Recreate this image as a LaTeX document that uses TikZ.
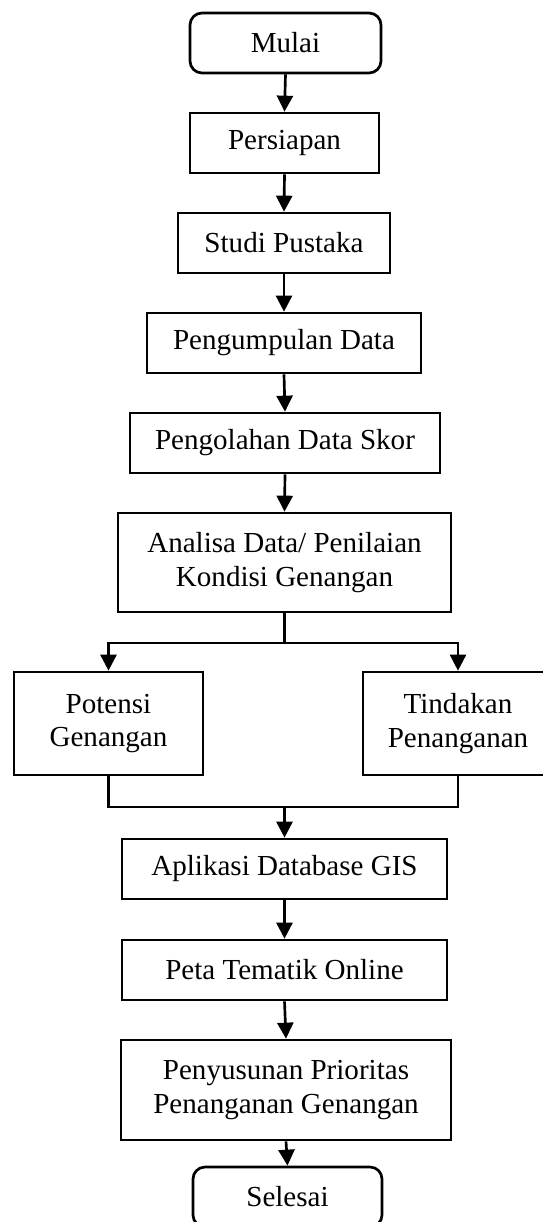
\documentclass[tikz,border=0pt]{standalone}
\usepackage{fontspec}
\setmainfont{Liberation Serif}
\usetikzlibrary{arrows.meta}

\begin{document}
\begin{tikzpicture}[x=0.03cm,y=-0.03cm,
  proses/.style={draw=black,line width=0.08cm,inner sep=0pt,align=center,minimum height=1.8cm,font=\fontsize{24.8pt}{29pt}\selectfont},
  terminal/.style={proses,rounded corners=0.36cm},
  panah/.style={line width=0.08cm,-{Triangle[length=0.48cm,width=0.48cm]}},
  garis/.style={line width=0.08cm}]
  % page frame
  \useasboundingbox (0,0) rectangle (543,1222);
  \clip (0,0) rectangle (543,1222);
  %nodes
  \node[terminal, minimum width=5.73cm] (mulai) at (285.5,43) {Mulai};
  \node[proses, minimum width=5.67cm] (persiapan) at (284.5,143) {Persiapan};
  \node[proses, minimum width=6.36cm] (studi) at (284,243) {Studi Pustaka};
  \node[proses, minimum width=8.22cm] (kumpul) at (284,343) {Pengumpulan Data};
  \node[proses, minimum width=9.3cm] (olah) at (285,443) {Pengolahan Data Skor};
  \node[proses, minimum width=9.99cm, minimum height=2.97cm] (analisa) at (284.5,562.5) {Analisa Data/ Penilaian\\Kondisi Genangan};
  \node[proses, minimum width=5.67cm, minimum height=3.09cm] (potensi) at (108.5,723.5) {Potensi\\Genangan};
  \node[proses, minimum width=5.7cm, minimum height=3.09cm] (tindakan) at (458,723.5) {Tindakan\\Penanganan};
  \node[proses, minimum width=9.75cm] (aplikasi) at (284.5,869) {Aplikasi Database GIS};
  \node[proses, minimum width=9.75cm] (peta) at (284.5,970) {Peta Tematik Online};
  \node[proses, minimum width=9.9cm, minimum height=3cm] (susun) at (286,1090) {Penyusunan Prioritas\\Penanganan Genangan};
  \node[terminal, minimum width=5.67cm] (selesai) at (287.5,1197) {Selesai};
  \coordinate (cabang) at (284.5,643);
  \coordinate (gabung) at (284.5,807);
  %arrows
  \draw[panah] (mulai.south) -- (persiapan.north);
  \draw[panah] (persiapan.south) -- (studi.north);
  \draw[panah] (studi.south) -- (kumpul.north);
  \draw[panah] (kumpul.south) -- (olah.north);
  \draw[panah] (olah.south) -- (analisa.north);
  \draw[garis] (analisa.south) -- (cabang);
  \draw[panah] (cabang) -| (potensi.north);
  \draw[panah] (cabang) -| (tindakan.north);
  \draw[garis] (potensi.south) |- (gabung) -| (tindakan.south);
  \draw[panah] (gabung) -- (aplikasi.north);
  \draw[panah] (aplikasi.south) -- (peta.north);
  \draw[panah] (peta.south) -- (susun.north);
  \draw[panah] (susun.south) -- (selesai.north);
\end{tikzpicture}
\end{document}
